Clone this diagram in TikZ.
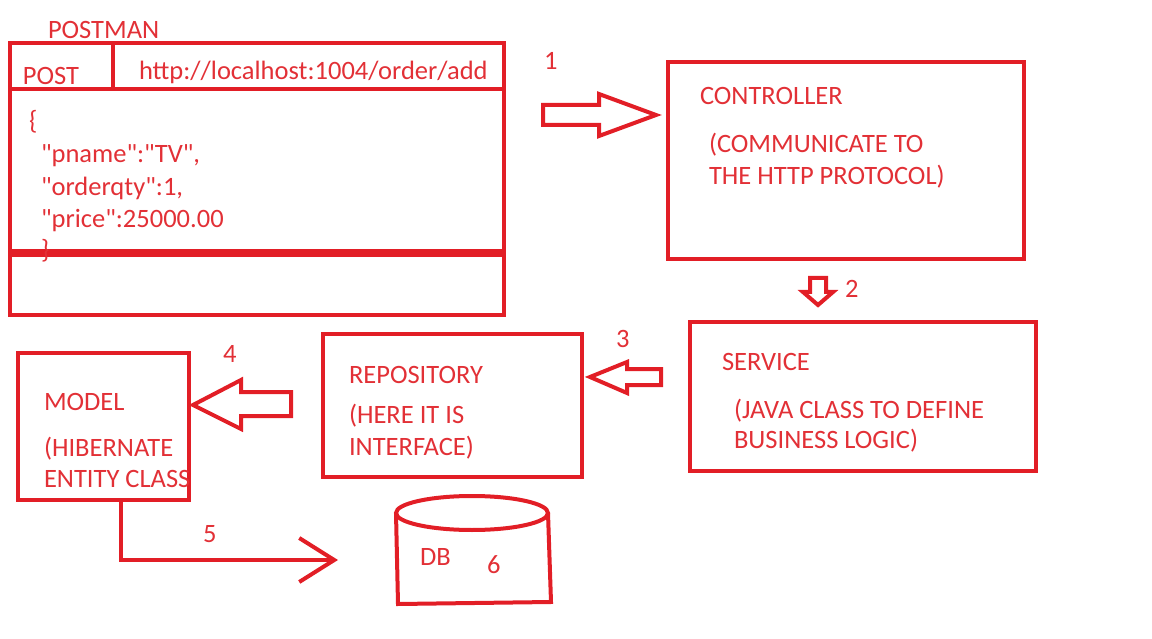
\documentclass[tikz,border=0pt]{standalone}
\usepackage{fontspec}
\setmainfont{Carlito}[Ligatures=TeXOff]
\usepackage{xcolor}
\usetikzlibrary{arrows.meta,positioning}
\definecolor{penred}{RGB}{226,30,38}
\definecolor{inkred}{RGB}{226,48,54}

\begin{document}
\begin{tikzpicture}[x=1pt,y=-1pt,line width=4pt,
    font=\fontsize{26.5}{31}\selectfont,text=inkred]
\tikzstyle{box}=[draw=penred,line width=4pt,inner sep=0pt]
\tikzstyle{lbl}=[anchor=base west,inner sep=0pt,text=inkred]
\tikzstyle{fatarrow}=[draw=penred,line width=4pt,line join=miter]
\tikzstyle{flow}=[draw=penred,line width=4pt,-{Straight Barb[length=35pt,width=44pt,line width=4pt]}]

\useasboundingbox (0,0) rectangle (1152,639);

\node[box,minimum width=494pt,minimum height=272pt] (postman) at (257,179) {};
\node[box,minimum width=356pt,minimum height=197pt] (ctrl) at (846,160.5) {};
\node[box,minimum width=346pt,minimum height=149pt] (service) at (863,396.5) {};
\node[box,minimum width=259pt,minimum height=143pt] (repo) at (452.5,405.5) {};
\node[box,minimum width=171pt,minimum height=147pt] (model) at (103.5,426.5) {};

\draw[penred] (10,89) -- (504,89);
\draw[penred] (112.5,43) -- (112.5,89);
\draw[penred,line width=8pt] (10,253) -- (504,253);

\node[lbl] (postmanlbl) at (46,39) {POSTMAN};
\node[lbl] (postlbl) at (21,85) {POST};
\node[lbl] (urllbl) at (137,80) {http://localhost:1004/order/add};
\node[lbl] (jopen) at (27,130) {\{};
\node[lbl] (jname) at (39,163) {"pname":"TV",};
\node[lbl] (jqty) at (39,196) {"orderqty":1,};
\node[lbl] (jprice) at (39,228) {"price":25000.00};
\node[lbl] (jclose) at (39,259) {\}};

\node[lbl] (ctrllbl) at (698,105) {CONTROLLER};
\node[lbl] (ctrlnote) at (707,153) {(COMMUNICATE TO};
\node[lbl] (ctrlnote2) at (707,185) {THE HTTP PROTOCOL)};
\node[lbl] (servlbl) at (720,370) {SERVICE};
\node[lbl] (servnote) at (732,418) {(JAVA CLASS TO DEFINE};
\node[lbl] (servnote2) at (732,448) {BUSINESS LOGIC)};
\node[lbl] (repolbl) at (347,383) {REPOSITORY};
\node[lbl] (reponote) at (347,423) {(HERE IT IS};
\node[lbl] (reponote2) at (347,455) {INTERFACE)};
\node[lbl] (modellbl) at (42,410) {MODEL};
\node[lbl] (modelnote) at (42,456) {(HIBERNATE};
\node[lbl] (modelnote2) at (42,487) {ENTITY CLASS};

\node[lbl] (one) at (542,70) {1};
\node[lbl] (two) at (843,298) {2};
\node[lbl] (three) at (614,347) {3};
\node[lbl] (four) at (221,362) {4};
\node[lbl] (five) at (201,542) {5};
\node[lbl] (dblbl) at (418,565) {DB};
\node[lbl] (six) at (485,573) {6};

\coordinate (tip1) at (656,115);
\coordinate (tip2) at (818,305);
\coordinate (tip3) at (590,377);
\coordinate (tip4) at (193,405);
\draw[fatarrow] (tip1) -- ++(-57,-21) -- ++(0,11) -- ++(-56,0) -- ++(0,20)
    -- ++(56,0) -- ++(0,11) -- cycle;
\draw[fatarrow] (tip2) -- ++(-15,-13) -- ++(7,0) -- ++(0,-14) -- ++(16,0)
    -- ++(0,14) -- ++(7,0) -- cycle;
\draw[fatarrow] (tip3) -- ++(37,-15) -- ++(0,7) -- ++(34,0) -- ++(0,16)
    -- ++(-34,0) -- ++(0,8) -- cycle;
\draw[fatarrow] (tip4) -- ++(48,-25) -- ++(0,12) -- ++(50,0) -- ++(0,24)
    -- ++(-50,0) -- ++(0,13) -- cycle;

\draw[penred] (472,513) ellipse [x radius=76,y radius=17];
\draw[penred,line join=miter] (396,513) -- (398,604) -- (551,602) -- (548,513);
\coordinate (dbin) at (338,560);

\path (model.south) ++(17,0) coordinate (modelout);
\draw[flow] (modelout) |- (dbin);
\end{tikzpicture}
\end{document}
